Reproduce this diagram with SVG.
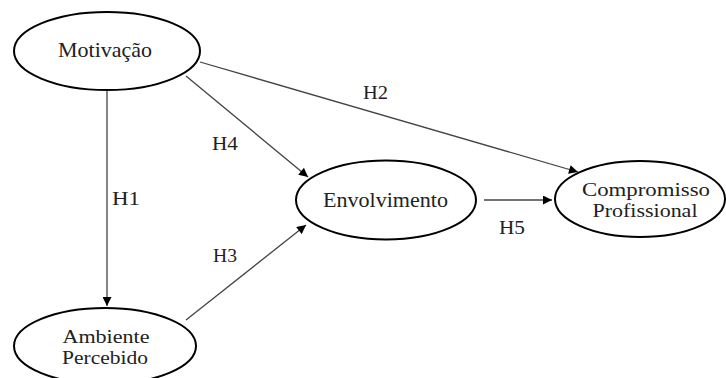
<svg xmlns="http://www.w3.org/2000/svg" width="726" height="378" viewBox="0 0 726 378">
<style>
.node{fill:#fff;stroke:#000;stroke-width:2}
.t{font-family:"Liberation Serif","Times New Roman",serif;font-size:21px;fill:#222;text-anchor:middle}
.t2{font-family:"Liberation Serif","Times New Roman",serif;font-size:18px;fill:#222;text-anchor:middle}
.lbl{font-family:"Liberation Serif","Times New Roman",serif;font-size:19px;fill:#222}
.edge{stroke:#444;stroke-width:1.3;fill:none;marker-end:url(#ah)}
</style>
<defs>
<marker id="ah" viewBox="0 0 10 10" refX="10" refY="5" markerWidth="11" markerHeight="9" markerUnits="userSpaceOnUse" orient="auto">
<path d="M0,0 L10,5 L0,10 z" fill="#000"/>
</marker>
</defs>
<rect width="726" height="378" fill="#fff"/>
<g id="connectors">
<line class="edge" x1="107" y1="90" x2="107" y2="306"/>
<line class="edge" x1="200" y1="62" x2="578" y2="172"/>
<line class="edge" x1="186" y1="76" x2="308" y2="177"/>
<line class="edge" x1="186" y1="320" x2="306" y2="225"/>
<line class="edge" x1="484" y1="200" x2="552" y2="200"/>
<text class="lbl" x="112" y="205" textLength="28" lengthAdjust="spacingAndGlyphs">H1</text>
<text class="lbl" x="363" y="99" textLength="25" lengthAdjust="spacingAndGlyphs">H2</text>
<text class="lbl" x="213" y="262" textLength="24" lengthAdjust="spacingAndGlyphs">H3</text>
<text class="lbl" x="212" y="150" textLength="26" lengthAdjust="spacingAndGlyphs">H4</text>
<text class="lbl" x="499" y="234" textLength="26" lengthAdjust="spacingAndGlyphs">H5</text>
</g>
<g id="motivacao">
<ellipse class="node" cx="107" cy="51" rx="93" ry="39"/>
<text class="t" x="105" y="57" textLength="94" lengthAdjust="spacingAndGlyphs">Motivação</text>
</g>
<g id="ambiente">
<ellipse class="node" cx="105" cy="346" rx="91" ry="38"/>
<text class="t2" x="106" y="343" textLength="87" lengthAdjust="spacingAndGlyphs">Ambiente</text>
<text class="t2" x="105" y="364" textLength="86" lengthAdjust="spacingAndGlyphs">Percebido</text>
</g>
<g id="envolvimento">
<ellipse class="node" cx="386" cy="200" rx="90" ry="39.5"/>
<text class="t" x="385.5" y="207" textLength="125" lengthAdjust="spacingAndGlyphs">Envolvimento</text>
</g>
<g id="compromisso">
<ellipse class="node" cx="640" cy="199" rx="85" ry="38"/>
<text class="t2" x="646" y="196" textLength="128" lengthAdjust="spacingAndGlyphs">Compromisso</text>
<text class="t2" x="645" y="217" textLength="105" lengthAdjust="spacingAndGlyphs">Profissional</text>
</g>
</svg>
